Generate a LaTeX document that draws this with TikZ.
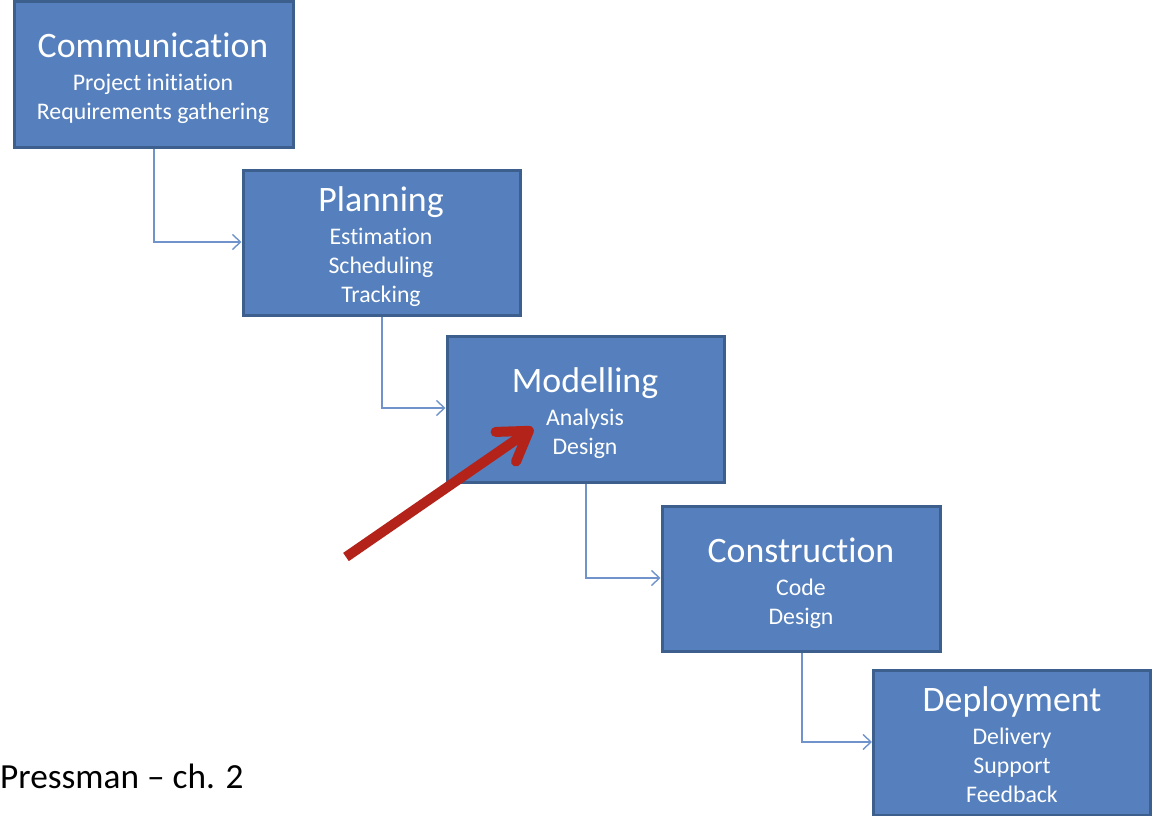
\documentclass[tikz,border=0pt]{standalone}
\usepackage{fontspec}
\setmainfont[Ligatures={NoCommon}]{Carlito}
\usetikzlibrary{arrows.meta}
\definecolor{boxfill}{HTML}{5580BD}
\definecolor{boxedge}{HTML}{3D5F8E}
\definecolor{linkcol}{HTML}{7093CB}
\definecolor{redarrow}{HTML}{B3231A}
\tikzset{
  box/.style={draw=boxedge, line width=3pt, fill=boxfill, rectangle, inner sep=0pt},
  title/.style={anchor=base, text=white, font=\fontsize{35.8}{40}\selectfont, inner sep=0pt},
  sub/.style={anchor=base, text=white, font=\fontsize{23.8}{27}\selectfont, inner sep=0pt},
  link/.style={draw=linkcol, line width=1.4pt, -{Straight Barb[length=8pt,width=15pt,line width=1.4pt]}},
}
\begin{document}
\begin{tikzpicture}[x=1pt,y=-1pt]
\useasboundingbox (0,0) rectangle (1152,816);
% boxes
\node[box, minimum width=279pt, minimum height=145pt] (comm) at (153.5,74.5) {};
\node[box, minimum width=277pt, minimum height=145pt] (plan) at (381.5,242.5) {};
\node[box, minimum width=277pt, minimum height=146pt] (model) at (585.5,409) {};
\node[box, minimum width=278pt, minimum height=145pt] (cons) at (801,578.5) {};
\node[box, minimum width=277pt, minimum height=145pt] (depl) at (1012,742.5) {};
% texts
\node[title] (commT) at (153,58) {Communication};
\node[sub] (commA) at (153,91) {Project initiation};
\node[sub] (commB) at (153,120) {Requirements gathering};
\node[title] (planT) at (381,211) {Planning};
\node[sub] (planA) at (381,244) {Estimation};
\node[sub] (planB) at (381,273) {Scheduling};
\node[sub] (planC) at (381,302) {Tracking};
\node[title] (modelT) at (585,392) {Modelling};
\node[sub] (modelA) at (585,425) {Analysis};
\node[sub] (modelB) at (585,454) {Design};
\node[title] (consT) at (801,562) {Construction};
\node[sub] (consA) at (801,595) {Code};
\node[sub] (consB) at (801,624) {Design};
\node[title] (deplT) at (1012,711) {Deployment};
\node[sub] (deplA) at (1012,744) {Delivery};
\node[sub] (deplB) at (1012,773) {Support};
\node[sub] (deplC) at (1012,802) {Feedback};
\node[anchor=base west, inner sep=0pt, font=\fontsize{35.3}{40}\selectfont] (press) at (0,788) {Pressman -- ch. 2};
% connectors
\draw[link] (comm.south -| 154,0) |- (plan.west |- 0,242);
\draw[link] (plan.south -| 382,0) |- (model.west |- 0,408);
\draw[link] (model.south -| 586,0) |- (cons.west |- 0,578);
\draw[link] (cons.south -| 802,0) |- (depl.west |- 0,742);
% red arrow
\coordinate (rs) at (346,557);
\coordinate (re) at (533,428);
\draw[redarrow, line width=10pt, -{Straight Barb[round, length=28pt, width=36pt]}] (rs) -- (re);
\end{tikzpicture}
\end{document}
